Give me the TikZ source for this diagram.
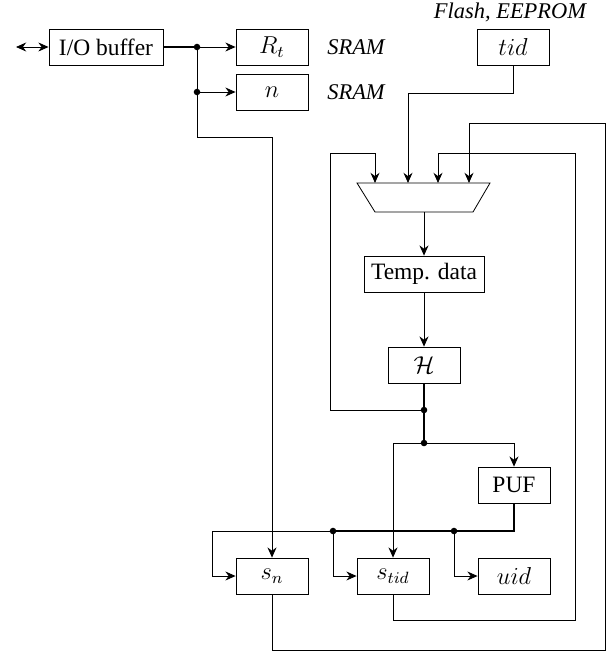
\documentclass[tikz,border=0pt]{standalone}
\usepackage{fontspec}
\setmainfont{Liberation Serif}
\usetikzlibrary{arrows.meta}
\begin{document}
\begin{tikzpicture}[x=0.49pt,y=-0.49pt,
  every node/.style={font=\fontsize{11.5}{13}\selectfont},
  blk/.style={draw, minimum width=35.3pt, minimum height=17.6pt, inner sep=1pt},
  conn/.style={-{Stealth[length=5pt,width=4.4pt]}},
  bus/.style={semithick},
  dot/.style={circle, fill, inner sep=0pt, minimum size=3.2pt},
  lbl/.style={font=\fontsize{11}{13}\selectfont\itshape}]
\useasboundingbox (0,0) rectangle (614,652);

% storage blocks
\node[blk, minimum width=55.9pt] (io) at (106,47) {I/O buffer};
\node[blk] (rt) at (272,47) {$R_t$};
\node[blk] (n) at (272,92) {$n$};
\node[lbl] (sram1) at (356,47) {SRAM};
\node[lbl] (sram2) at (356,92) {SRAM};
\node[blk] (tid) at (513,47) {$tid$};
\node[lbl] (flash) at (510,12) {Flash, EEPROM};

% multiplexer
\draw (357,183) -- (490,183) -- (473,212) -- (375,212) -- cycle;
\coordinate (mi1) at (375,183);
\coordinate (mi2) at (408,183);
\coordinate (mi3) at (438,183);
\coordinate (mi4) at (469,183);
\coordinate (mo) at (424,212);

\node[blk, minimum width=58.8pt] (temp) at (424,274) {Temp. data};
\node[blk] (h) at (424,365) {$\mathcal{H}$};
\node[blk] (puf) at (514,485) {PUF};
\node[blk] (sn) at (272,576) {$s_n$};
\node[blk] (stid) at (393,576) {$s_{tid}$};
\node[blk] (uid) at (514,576) {$uid$};

% junctions
\node[dot] (j1) at (197,47) {};
\node[dot] (j2) at (197,92) {};
\node[dot] (j3) at (424,410) {};
\node[dot] (j4) at (424,443) {};
\node[dot] (j5) at (454,531) {};
\node[dot] (j6) at (333,531) {};

% routing points
\coordinate (ioext) at (16,47);
\coordinate (lp) at (330,153);
\coordinate (pl) at (212,531);
\coordinate (r1b) at (575,620);
\coordinate (r1t) at (575,153);
\coordinate (r2b) at (605,650);
\coordinate (r2t) at (605,123);

% I/O side
\draw[{Stealth[length=5pt,width=4.4pt]}-{Stealth[length=5pt,width=4.4pt]}] (ioext) -- (io.west);
\draw[bus] (io.east) -- (j1.center);
\draw[conn] (j1.center) -- (rt.west);
\draw (j1.center) -- (j2.center);
\draw[conn] (j2.center) -- (n.west);
\draw[conn] (j2.center) -- ++(0,45) -| (sn.north);

% into the multiplexer
\draw[conn] (tid.south) -- ++(0,28) -| (mi2);
\draw[conn] (j3.center) -| (lp) -| (mi1);
\draw[conn] (stid.south) |- (r1b) -- (r1t) -| (mi3);
\draw[conn] (sn.south) |- (r2b) -- (r2t) -| (mi4);

% hash path
\draw[conn] (mo) -- (temp.north);
\draw[conn] (temp.south) -- (h.north);
\draw[bus] (h.south) -- (j3.center) -- (j4.center);
\draw[conn] (j4.center) -| (stid.north);
\draw[conn] (j4.center) -| (puf.north);

% PUF outputs
\draw[bus] (puf.south) |- (j5.center) -- (j6.center);
\draw[conn] (j6.center) -- (pl) |- (sn.west);
\draw[conn] (j6.center) |- (stid.west);
\draw[conn] (j5.center) |- (uid.west);
\end{tikzpicture}
\end{document}
